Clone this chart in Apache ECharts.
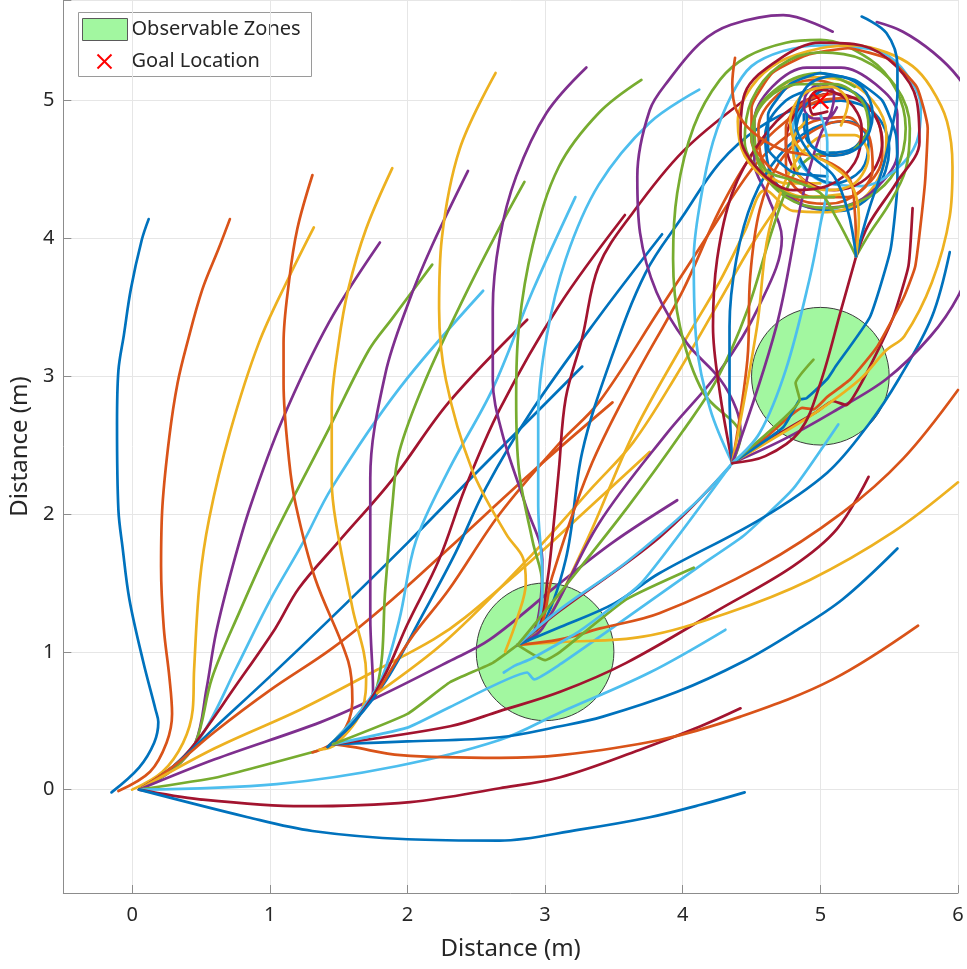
<!DOCTYPE html>
<html>
<head>
<meta charset="utf-8">
<script src="https://cdn.jsdelivr.net/npm/echarts@6/dist/echarts.min.js"></script>
<style>
html,body{margin:0;padding:0;background:#ffffff;}
#chart{width:967px;height:969px;}
</style>
</head>
<body>
<div id="chart"></div>
<script>
// Colour order used for the trajectories
const palette = {
  B: '#0072BD', O: '#D95319', Y: '#EDB120', P: '#7E2F8E',
  G: '#77AC30', C: '#4DBEEE', R: '#A2142F'
};

// Observable zones (centre x, centre y) and radius, goal position
const zoneCenters = [[3, 1], [5, 3]];
const zoneRadius = 0.5;
const goalLocation = [5, 5];

// Axis limits
const xRange = [-0.5, 6];
const yRange = [-0.75, 5.73];

// ---- Trajectories leaving the start point ----
const traj01 = [[-0.15,-0.02],[0.05,0.16],[0.16,0.34],[0.19,0.49],[0.17,0.58],[0.08,0.93],[-0.02,1.38],[-0.07,1.76],[-0.1,2.03],[-0.11,2.65],[-0.1,3.04],[-0.06,3.3],[-0.01,3.63],[0.07,3.99],[0.12,4.14]];
const traj02 = [[-0.1,-0.01],[0.13,0.13],[0.25,0.34],[0.29,0.55],[0.27,0.82],[0.23,1.17],[0.21,1.62],[0.22,2.06],[0.27,2.56],[0.33,2.95],[0.4,3.24],[0.51,3.63],[0.63,3.93],[0.71,4.14]];
const traj03 = [[0.0,0.0],[0.22,0.13],[0.37,0.34],[0.44,0.58],[0.45,0.87],[0.49,1.5],[0.56,1.97],[0.71,2.59],[0.92,3.24],[1.14,3.72],[1.32,4.08]];
const traj04 = [[0.05,0],[0.3,0.15],[0.46,0.34],[0.54,0.73],[0.61,1.14],[0.73,1.62],[0.86,2.06],[1.09,2.68],[1.43,3.39],[1.8,3.97]];
const traj05 = [[0.05,0],[0.3,0.15],[0.46,0.34],[0.58,0.81],[0.78,1.29],[1.02,1.82],[1.43,2.62],[1.72,3.19],[1.89,3.42],[2.18,3.81]];
const traj06 = [[0.05,0],[0.3,0.17],[0.51,0.4],[0.75,0.87],[1.0,1.37],[1.24,1.79],[1.45,2.19],[1.94,2.91],[2.55,3.62]];
const traj07 = [[0.05,0],[0.3,0.17],[0.46,0.34],[0.75,0.75],[1.04,1.17],[1.21,1.46],[1.5,1.8],[1.89,2.25],[2.3,2.81],[2.87,3.41]];
const traj08 = [[0.05,0],[0.3,0.17],[0.6,0.45],[1.0,0.82],[1.45,1.25],[2.01,1.8],[2.52,2.32],[2.91,2.71],[3.27,3.07]];
const traj09 = [[0.05,0],[0.3,0.17],[0.6,0.42],[1.0,0.72],[1.46,1.03],[1.89,1.38],[2.3,1.75],[2.9,2.3],[3.49,2.81]];
const traj10 = [[0.05,0],[0.6,0.3],[1.22,0.58],[1.78,0.87],[2.19,1.09],[2.42,1.25],[2.91,1.67],[3.27,2.0],[3.76,2.45]];
const traj11 = [[0.05,0],[0.6,0.22],[1.37,0.49],[1.78,0.67],[2.3,0.93],[2.6,1.09],[3.11,1.5],[3.5,1.8],[3.96,2.1]];
const traj12 = [[0.05,0],[0.62,0.09],[1.34,0.28]];
const traj13 = [[0.05,0],[1.05,0.04],[1.92,0.17],[2.67,0.36],[3.11,0.56],[3.76,0.85],[4.31,1.16]];
const traj14 = [[0.05,0],[0.49,-0.07],[1.24,-0.12],[2.02,-0.09],[2.67,0.01],[3.11,0.09],[3.69,0.29],[4.13,0.46],[4.42,0.59]];
const traj15 = [[0.05,0],[0.84,-0.2],[1.31,-0.3],[2.0,-0.36],[2.67,-0.37],[3.25,-0.29],[3.76,-0.2],[4.13,-0.11],[4.45,-0.02]];

// ---- Branches from the first waypoint ----
const traj16 = [[1.31,0.27],[1.5,0.37],[1.6,0.64],[1.57,0.93],[1.33,1.53],[1.19,2.06],[1.14,2.39],[1.1,2.95],[1.1,3.24],[1.14,3.69],[1.2,4.07],[1.31,4.46]];
const traj17 = [[1.36,0.29],[1.48,0.33],[1.67,0.58],[1.7,0.84],[1.6,1.32],[1.48,1.94],[1.45,2.24],[1.45,2.77],[1.5,3.24],[1.57,3.63],[1.7,4.07],[1.89,4.51]];
const traj18 = [[1.42,0.31],[1.6,0.5],[1.75,0.72],[1.73,1.25],[1.73,2.26],[1.84,3.02],[2.01,3.54],[2.18,3.95],[2.44,4.49]];
const traj19 = [[1.42,0.31],[1.6,0.5],[1.78,0.75],[1.84,1.47],[1.89,2.06],[1.94,2.45],[2.13,2.97],[2.42,3.59],[2.67,4.08],[2.85,4.41]];
const traj20 = [[1.42,0.31],[1.6,0.5],[1.8,0.78],[1.94,1.23],[2.06,1.8],[2.3,2.32],[2.62,2.91],[2.91,3.62],[3.22,4.3]];
const traj21 = [[1.42,0.31],[1.62,0.5],[1.82,0.8],[2.0,1.2],[2.23,1.67],[2.42,2.19],[2.67,2.76],[3.1,3.51],[3.58,4.17]];
const traj22 = [[1.42,0.31],[1.62,0.5],[1.85,0.8],[2.1,1.25],[2.35,1.72],[2.57,2.19],[2.91,2.76],[3.39,3.43],[3.85,4.03]];
const traj23 = [[1.46,0.33],[1.6,0.31],[1.95,0.25],[2.67,0.23],[3.11,0.25],[3.83,0.36],[4.42,0.53],[5.09,0.8],[5.71,1.19]];
const traj24 = [[1.46,0.33],[2.0,0.35],[2.67,0.38],[3.11,0.46],[3.42,0.53],[3.96,0.71],[4.44,0.93],[4.8,1.14],[5.16,1.38],[5.56,1.75]];
const traj25 = [[1.46,0.33],[2.31,0.46],[2.67,0.57],[3.11,0.71],[3.59,0.92],[4.27,1.31],[4.8,1.62],[5.12,1.89],[5.35,2.27]];
const traj26 = [[1.46,0.33],[2.0,0.45],[2.31,0.6],[2.87,0.85],[2.92,0.8],[3.11,0.91],[3.54,1.21],[4.12,1.62],[4.44,1.84],[4.8,2.18],[5.13,2.65]];
const traj27 = [[1.46,0.33],[2.0,0.55],[2.31,0.78],[2.62,0.92],[2.8,1.05]];
const traj37 = [[1.78,0.7],[2.02,1.09],[2.3,1.45],[2.67,2.0],[3.11,2.52],[3.39,2.81],[3.83,3.48],[4.2,4.05],[4.5,4.5],[4.7,4.7],[4.95,4.85],[5.2,4.88],[5.3,4.75],[5.2,4.62],[5.0,4.6]];
const traj38 = [[1.78,0.7],[2.29,1.09],[2.9,1.7],[3.35,2.2],[3.64,2.52],[3.95,3.0],[4.27,3.55],[4.5,3.95],[4.7,4.25]];

// ---- Branches from the first observable zone ----
const traj28 = [[2.71,1.0],[2.8,1.25],[2.86,1.5],[2.84,1.68],[2.72,1.85],[2.47,2.32],[2.28,2.97],[2.23,3.49],[2.25,4.0],[2.38,4.65],[2.64,5.2]];
const traj29 = [[2.8,1.05],[2.92,1.15],[2.97,1.4],[2.98,1.67],[2.86,2.06],[2.69,2.58],[2.62,2.97],[2.62,3.49],[2.67,4.0],[2.79,4.45],[3.01,4.91],[3.3,5.24]];
const traj30 = [[2.8,1.05],[2.93,1.15],[2.98,1.49],[2.91,1.8],[2.81,2.32],[2.79,2.84],[2.81,3.36],[2.91,3.95],[3.1,4.52],[3.39,4.91],[3.7,5.15]];
const traj31 = [[2.8,1.05],[2.94,1.15],[2.98,1.54],[2.95,2.06],[2.95,2.71],[3.01,3.28],[3.15,3.85],[3.39,4.39],[3.76,4.84],[4.12,5.08]];
const traj32 = [[2.8,1.05],[2.95,1.15],[3.02,1.54],[3.05,1.8],[3.1,2.32],[3.15,2.84],[3.27,3.28],[3.39,3.8],[3.64,4.19],[4.0,4.63],[4.43,4.99]];
const traj33 = [[2.8,1.05],[2.96,1.15],[3.15,1.67],[3.27,2.45],[3.47,3.1],[3.73,3.75],[4.0,4.16],[4.27,4.55],[4.55,4.8],[4.85,4.95],[5.15,5.0],[5.4,4.9],[5.5,4.65],[5.4,4.35],[5.15,4.2],[4.85,4.25],[4.65,4.45],[4.6,4.75],[4.75,5.0],[5.0,5.1]];
const traj34 = [[2.8,1.05],[2.96,1.16],[3.05,1.54],[3.32,2.32],[3.64,2.97],[4.0,3.62],[4.27,4.21],[4.5,4.6],[4.75,4.85],[5.0,5.0],[5.25,5.02],[5.42,4.85],[5.45,4.6],[5.3,4.35],[5.05,4.25],[4.8,4.3],[4.6,4.5],[4.55,4.8],[4.7,5.05],[4.95,5.15],[5.15,5.1]];
const traj35 = [[2.8,1.05],[2.97,1.16],[3.3,1.8],[3.64,2.58],[4.0,3.23],[4.27,3.69],[4.45,4.05],[4.6,4.35],[4.8,4.2],[5.05,4.19],[5.3,4.28],[5.45,4.5],[5.48,4.75],[5.38,5.0],[5.15,5.15],[4.9,5.17],[4.65,5.05],[4.5,4.8],[4.55,4.55],[4.75,4.4],[5.0,4.4]];
const traj36 = [[2.8,1.05],[2.98,1.17],[3.39,1.93],[3.88,2.58],[4.27,3.04],[4.55,3.5],[4.72,4.0],[4.62,4.3],[4.52,4.55],[4.52,4.85],[4.65,5.1],[4.9,5.24],[5.15,5.24],[5.4,5.12],[5.56,4.9],[5.56,4.62],[5.42,4.38],[5.2,4.24],[4.95,4.22],[4.75,4.32]];
const traj39 = [[2.8,1.05],[3.11,1.07],[3.71,1.11],[4.32,1.28],[4.92,1.52],[5.53,1.87],[6.0,2.23]];
const traj40 = [[2.8,1.05],[3.11,1.09],[3.4,1.17],[3.83,1.28],[4.56,1.62],[5.16,2.01],[5.6,2.4],[6.0,2.9]];
const traj41 = [[2.8,1.05],[3.11,1.18],[3.5,1.35],[3.83,1.57],[4.56,1.96],[5.05,2.3],[5.35,2.65],[5.57,2.98],[5.81,3.43],[5.94,3.9]];
const traj42 = [[2.8,1.05],[3.11,1.3],[3.83,1.83],[4.34,2.34]];
const traj43 = [[2.8,1.05],[3.11,1.31],[3.59,1.65],[4.08,2.07],[4.36,2.37]];
const traj44 = [[2.8,1.05],[3.0,0.94],[3.11,1.0],[3.59,1.38],[4.08,1.61]];
const traj45 = [[2.8,1.05],[3.11,1.43],[3.6,2.05],[4.0,2.6],[4.25,2.98],[4.47,3.48],[4.66,4.09],[4.8,4.45],[4.95,4.6],[5.1,4.62]];
const traj46 = [[2.7,0.85],[2.78,0.9],[2.9,0.95],[3.25,1.15],[3.7,1.5],[4.36,2.37]];

// ---- Branches from the second observable zone ----
const traj47 = [[4.36,2.37],[4.42,2.59],[4.39,2.76],[4.27,2.98],[4.03,3.24],[3.81,3.61],[3.69,4.04],[3.67,4.45],[3.76,4.93],[3.9,5.15],[4.13,5.42],[4.35,5.55],[4.73,5.62],[5.09,5.5]];
const traj48 = [[4.36,2.37],[4.42,2.56],[4.15,2.88],[3.98,3.36],[3.93,3.85],[3.96,4.33],[4.08,4.81],[4.27,5.15],[4.47,5.32],[4.75,5.42],[5.0,5.44],[5.36,5.3],[5.55,5.08],[5.62,4.8],[5.55,4.5],[5.35,4.3],[5.05,4.22],[4.75,4.3],[4.55,4.55],[4.52,4.85],[4.7,5.1],[5.0,5.2],[5.25,5.1]];
const traj49 = [[4.36,2.37],[4.2,2.76],[4.1,3.24],[4.08,3.85],[4.13,4.28],[4.22,4.7],[4.36,5.05],[4.5,5.25],[4.73,5.36],[5.0,5.4],[5.22,5.39],[5.45,5.35],[5.62,5.2],[5.73,4.95],[5.7,4.7],[5.55,4.5],[5.3,4.38],[5.05,4.4],[4.85,4.55],[4.8,4.8],[4.92,5.0],[5.05,5.05]];
const traj50 = [[4.36,2.37],[4.27,2.88],[4.22,3.36],[4.25,3.85],[4.36,4.33],[4.56,4.7],[4.8,4.95],[5.1,5.05],[5.35,4.95],[5.45,4.7],[5.35,4.45],[5.1,4.35],[4.85,4.45],[4.75,4.7],[4.85,4.95],[5.05,5.05]];
const traj51 = [[4.36,2.37],[4.34,2.88],[4.34,3.36],[4.39,3.85],[4.51,4.28],[4.7,4.6],[4.95,4.8],[5.2,4.85],[5.35,4.7],[5.3,4.5],[5.1,4.4],[4.9,4.5],[4.82,4.75],[4.9,4.98],[5.1,5.1],[5.3,5.02],[5.36,4.85],[5.25,4.66],[5.05,4.62],[4.9,4.72],[4.88,4.9]];
const traj52 = [[4.36,2.37],[4.47,3.12],[4.49,3.72],[4.56,4.21],[4.7,4.55],[4.9,4.75],[5.15,4.85],[5.35,4.75],[5.38,4.5],[5.2,4.3],[4.95,4.3],[4.75,4.5],[4.75,4.8],[4.9,5.0],[5.1,5.05]];
const traj53 = [[4.36,2.37],[4.54,3.36],[4.61,3.97],[4.71,4.33],[4.85,4.6],[5.05,4.75],[5.25,4.75],[5.35,4.6],[5.25,4.4],[5.05,4.35],[4.85,4.45],[4.8,4.7],[4.95,4.9]];
const traj54 = [[4.36,2.37],[4.68,3.36],[4.85,4.21],[4.92,4.5],[5.0,4.75],[5.08,4.92],[5.1,5.05],[5.0,5.12],[4.9,5.05],[4.88,4.95],[4.95,4.87],[5.05,4.87],[5.12,4.95]];
const traj55 = [[4.36,2.37],[4.73,2.54],[5.09,2.74],[5.48,2.98],[5.8,3.29],[6.0,3.58],[6.15,3.95],[6.25,4.4],[6.2,4.85],[6.0,5.17],[5.82,5.35],[5.6,5.5],[5.41,5.57]];
const traj56 = [[4.36,2.37],[4.39,2.39],[4.66,2.56],[4.97,2.74],[5.09,2.82],[5.19,2.79],[5.24,2.85],[5.36,3.07],[5.53,3.43],[5.64,3.8],[5.67,4.22]];
const traj57 = [[4.36,2.37],[4.73,2.59],[5.0,2.76],[5.29,2.98],[5.48,3.19],[5.61,3.29],[5.81,3.68],[5.94,4.16],[5.96,4.52],[5.92,4.85],[5.8,5.1],[5.67,5.25],[5.48,5.35],[5.27,5.4],[5.0,5.38],[4.7,5.28],[4.5,5.1],[4.4,4.85],[4.45,4.6],[4.65,4.4],[4.9,4.3],[5.15,4.32]];
const traj58 = [[4.36,2.37],[4.61,2.56],[4.87,2.77],[4.95,2.76],[5.05,2.85],[5.22,2.98],[5.41,3.21],[5.6,3.56],[5.69,3.8],[5.76,4.4],[5.78,4.8],[5.7,5.1],[5.5,5.3],[5.2,5.38],[4.9,5.33],[4.65,5.2],[4.5,4.95],[4.5,4.7],[4.65,4.5],[4.9,4.4]];
const traj59 = [[4.36,2.37],[4.73,2.63],[4.85,2.83],[4.9,2.84],[5.05,2.98],[5.11,3.07],[5.36,3.43],[5.51,3.92],[5.56,4.4],[5.55,4.75],[5.45,5.0],[5.25,5.15],[5.0,5.2],[4.78,5.12],[4.62,4.9],[4.62,4.65],[4.8,4.48],[5.05,4.45]];
const traj60 = [[4.36,2.37],[4.63,2.6],[4.85,2.83],[4.82,2.95],[4.95,3.12]];
const traj61 = [[4.36,2.37],[4.56,2.59],[4.75,3.05],[4.92,3.7],[5.0,4.1],[5.05,4.4],[5.05,4.7],[5.0,4.9]];
const traj62 = [[4.36,2.37],[4.6,2.42],[4.85,2.6],[5.0,2.95],[5.15,3.48],[5.26,3.87]];

// ---- Branches below the goal ----
const traj63 = [[5.26,3.87],[5.11,4.16],[5.0,4.33],[4.8,4.42],[4.6,4.5],[4.5,4.75],[4.6,5.0],[4.85,5.12],[5.1,5.12],[5.3,5.0],[5.35,4.8],[5.25,4.65]];
const traj64 = [[5.26,3.87],[5.36,4.04],[5.5,4.25],[5.62,4.5],[5.65,4.8],[5.55,5.1],[5.3,5.3],[5.0,5.35],[4.7,5.25],[4.5,5.0],[4.45,4.7],[4.6,4.45],[4.85,4.3],[5.1,4.3]];
const traj65 = [[5.26,3.87],[5.35,4.1],[5.55,4.4],[5.72,4.7],[5.7,5.0],[5.55,5.25],[5.3,5.4],[5.0,5.42],[4.7,5.3],[4.45,5.05],[4.42,4.75],[4.55,4.5],[4.8,4.35],[5.05,4.38],[5.25,4.55],[5.3,4.8],[5.2,5.0],[5.0,5.08],[4.92,5.0],[4.95,4.9],[5.05,4.92]];
const traj66 = [[5.26,3.87],[5.35,4.2],[5.45,4.5],[5.52,4.8],[5.56,5.05],[5.56,5.25],[5.48,5.49],[5.3,5.61]];
const traj67 = [[5.26,3.87],[5.25,4.2],[5.2,4.45],[4.97,4.59],[4.73,4.64],[4.51,4.77],[4.39,4.93],[4.36,5.12],[4.38,5.31]];
const traj68 = [[5.26,3.87],[5.28,4.15],[5.22,4.4],[5.05,4.55],[4.85,4.65],[4.78,4.85],[4.88,5.05],[5.08,5.1],[5.2,4.98],[5.15,4.82]];
const traj69 = [[5.26,3.87],[5.2,4.2],[5.1,4.45],[4.92,4.62],[4.82,4.85],[4.9,5.1],[5.1,5.18],[5.3,5.1],[5.38,4.9],[5.3,4.68],[5.1,4.6],[4.92,4.7],[4.9,4.9]];

const trajectoryList = [
  traj01, traj02, traj03, traj04, traj05, traj06, traj07, traj08, traj09, traj10,
  traj11, traj12, traj13, traj14, traj15, traj16, traj17, traj18, traj19, traj20,
  traj21, traj22, traj23, traj24, traj25, traj26, traj27, traj37, traj38,
  traj28, traj29, traj30, traj31, traj32, traj33, traj34, traj35, traj36,
  traj39, traj40, traj41, traj42, traj43, traj44, traj45, traj46,
  traj47, traj48, traj49, traj50, traj51, traj52, traj53, traj54, traj55,
  traj56, traj57, traj58, traj59, traj60, traj61, traj62,
  traj63, traj64, traj65, traj66, traj67, traj68, traj69
];
const trajectoryColors = [
  'B','O','Y','P','G','C','R','B','O','Y',
  'P','G','C','R','B','O','Y','P','G','C',
  'R','B','O','B','R','C','G','O','Y',
  'Y','P','G','C','R','B','O','Y','P',
  'Y','O','B','R','C','G','G','C',
  'P','G','C','R','B','O','Y','P','P',
  'R','Y','O','B','G','C','R',
  'G','G','R','B','O','Y','B'
];
// Segments with sharp turns inside the zones are drawn without smoothing
const sharpTrajectories = [traj12, traj26, traj27, traj44, traj46, traj56, traj58, traj59, traj60];

const fontFamily = '"Noto Sans", "DejaVu Sans", sans-serif';
const chart = echarts.init(document.getElementById('chart'), null, { renderer: 'canvas' });

const lineSeries = trajectoryList.map((pts, i) => ({
  type: 'line',
  data: pts,
  showSymbol: false,
  symbol: 'none',
  smooth: sharpTrajectories.includes(pts) ? 0.15 : 0.35,
  clip: true,
  silent: true,
  z: 3,
  lineStyle: { color: palette[trajectoryColors[i]], width: 2.7, cap: 'round', join: 'round' }
}));

const tickLabel = v => (Math.abs(v - Math.round(v)) < 1e-9 ? String(Math.round(v)) : '');

const option = {
  animation: false,
  backgroundColor: '#ffffff',
  grid: { left: 63, right: 9, top: 0, bottom: 76, containLabel: false },
  xAxis: {
    type: 'value', min: xRange[0], max: xRange[1],
    name: 'Distance (m)', nameLocation: 'middle', nameGap: 44,
    nameTextStyle: { fontFamily, fontSize: 24, color: '#262626' },
    axisLine: { show: true, onZero: false, lineStyle: { color: '#8c8c8c', width: 1 } },
    axisTick: { show: true, inside: true, length: 8, lineStyle: { color: '#8c8c8c' } },
    axisLabel: { formatter: tickLabel, fontFamily, fontSize: 20, color: '#262626', margin: 12 },
    splitLine: { show: true, lineStyle: { color: '#e6e6e6', width: 1 } }
  },
  yAxis: {
    type: 'value', min: yRange[0], max: yRange[1],
    name: 'Distance (m)', nameLocation: 'middle', nameGap: 26, nameRotate: 90,
    nameTextStyle: { fontFamily, fontSize: 24, color: '#262626' },
    axisLine: { show: true, onZero: false, lineStyle: { color: '#8c8c8c', width: 1 } },
    axisTick: { show: true, inside: true, length: 8, lineStyle: { color: '#8c8c8c' } },
    axisLabel: { formatter: tickLabel, fontFamily, fontSize: 20, color: '#262626', margin: 9 },
    splitLine: { show: true, lineStyle: { color: '#e6e6e6', width: 1 } }
  },
  series: [
    {
      type: 'custom',
      name: 'Observable Zones',
      z: 1,
      silent: true,
      data: zoneCenters.map(c => [c[0], c[1], zoneRadius]),
      renderItem: (params, api) => {
        const c = api.coord([api.value(0), api.value(1)]);
        const s = api.size([api.value(2), api.value(2)]);
        return {
          type: 'circle',
          shape: { cx: c[0], cy: c[1], r: s[0] },
          style: { fill: '#a2f7a0', stroke: '#3c3c3c', lineWidth: 1 }
        };
      }
    },
    ...lineSeries,
    {
      type: 'custom',
      name: 'Goal Location',
      z: 10,
      silent: true,
      data: [goalLocation],
      renderItem: (params, api) => {
        const c = api.coord([api.value(0), api.value(1)]);
        const h = 8;
        return {
          type: 'group',
          children: [
            { type: 'line', shape: { x1: c[0] - h, y1: c[1] - h, x2: c[0] + h, y2: c[1] + h }, style: { stroke: '#ff0000', lineWidth: 2.2 } },
            { type: 'line', shape: { x1: c[0] - h, y1: c[1] + h, x2: c[0] + h, y2: c[1] - h }, style: { stroke: '#ff0000', lineWidth: 2.2 } }
          ]
        };
      }
    }
  ],
  graphic: [
    {
      type: 'group', left: 78, top: 12, z: 100,
      children: [
        { type: 'rect', shape: { x: 0, y: 0, width: 233, height: 64 }, style: { fill: '#ffffff', stroke: '#9a9a9a', lineWidth: 1 } },
        { type: 'rect', shape: { x: 4, y: 6, width: 45, height: 22 }, style: { fill: '#a2f7a0', stroke: '#5a5a5a', lineWidth: 1 } },
        { type: 'text', style: { x: 53, y: 17, text: 'Observable Zones', fill: '#262626', font: '20px "Noto Sans", sans-serif', textVerticalAlign: 'middle' } },
        { type: 'line', shape: { x1: 19, y1: 42, x2: 33, y2: 56 }, style: { stroke: '#ff0000', lineWidth: 2 } },
        { type: 'line', shape: { x1: 19, y1: 56, x2: 33, y2: 42 }, style: { stroke: '#ff0000', lineWidth: 2 } },
        { type: 'text', style: { x: 53, y: 49, text: 'Goal Location', fill: '#262626', font: '20px "Noto Sans", sans-serif', textVerticalAlign: 'middle' } }
      ]
    }
  ]
};

chart.setOption(option);
</script>
</body>
</html>
